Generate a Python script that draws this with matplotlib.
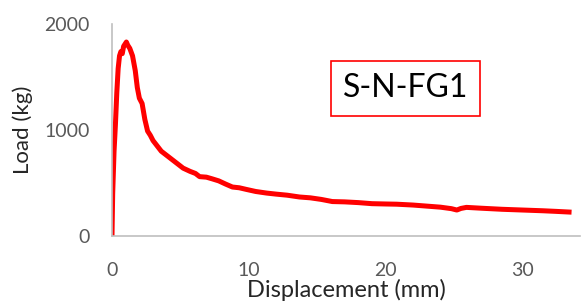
import matplotlib
matplotlib.use("Agg")
import matplotlib.pyplot as plt

# Displacement (mm) and Load (kg)
displacement = [0.0, 0.05, 0.1, 0.15, 0.25, 0.35, 0.45, 0.55, 0.65, 0.75, 0.85, 0.95, 1.05,
                1.15, 1.3, 1.5, 1.7, 1.85, 2.0, 2.2, 2.4, 2.6, 2.8, 3.0, 3.3, 3.6, 4.0,
                4.4, 4.8, 5.2, 5.7, 6.1, 6.4, 6.9, 7.3, 7.8, 8.3, 8.8, 9.3, 9.8,
                10.5, 11.3, 12.0, 12.8, 13.7, 14.5, 15.3, 16.1, 17.0, 18.0, 19.0,
                20.0, 20.8, 22.0, 23.0, 24.0, 24.8, 25.2, 25.5, 25.9, 27.0, 28.5,
                30.0, 31.5, 32.5, 33.4]
load = [0, 400, 600, 800, 1050, 1350, 1580, 1700, 1740, 1720, 1790, 1810, 1830,
        1800, 1770, 1700, 1560, 1400, 1300, 1250, 1100, 990, 950, 900, 850, 800, 760,
        720, 680, 640, 610, 590, 560, 555, 540, 520, 490, 462, 455, 440,
        420, 405, 395, 385, 368, 360, 345, 325, 322, 315, 305,
        302, 300, 292, 282, 272, 258, 245, 260, 270, 262, 252,
        245, 238, 232, 226]

x_ticks = [0, 10, 20, 30]
y_ticks = [0, 1000, 2000]
x_label = "Displacement (mm)"
y_label = "Load (kg)"
title_text = "S-N-FG1"

plt.rcParams['font.family'] = ['Lato', 'DejaVu Sans']

fig = plt.figure(figsize=(5.82, 3.02), dpi=100)
ax = fig.add_axes([112/582, 1-236/302, (580-112)/582, (236-24)/302])

ax.plot(displacement, load, color='#ff0000', lw=3.6, solid_joinstyle='round')

ax.set_xlim(0, 34.2)
ax.set_ylim(0, 2000)
ax.set_xticks(x_ticks)
ax.set_yticks(y_ticks)
ax.tick_params(axis='both', length=0, labelsize=14, labelcolor='#595959')
ax.tick_params(axis='x', pad=19)
ax.tick_params(axis='y', pad=16)

for s in ['top', 'right']:
    ax.spines[s].set_visible(False)
for s in ['left', 'bottom']:
    ax.spines[s].set_color('#bfbfbf')
    ax.spines[s].set_linewidth(1.2)

ax.set_xlabel(x_label, fontsize=17, color='#262626', labelpad=0)
ax.set_ylabel(y_label, fontsize=16, color='#262626', labelpad=8)

ax.text(0.627, 0.696, title_text, transform=ax.transAxes, fontsize=23, color='black',
        ha='center', va='center',
        bbox=dict(boxstyle='square,pad=0.38', facecolor='white', edgecolor='#ff0000', linewidth=1.2))

fig.savefig('out.png', dpi=100)
